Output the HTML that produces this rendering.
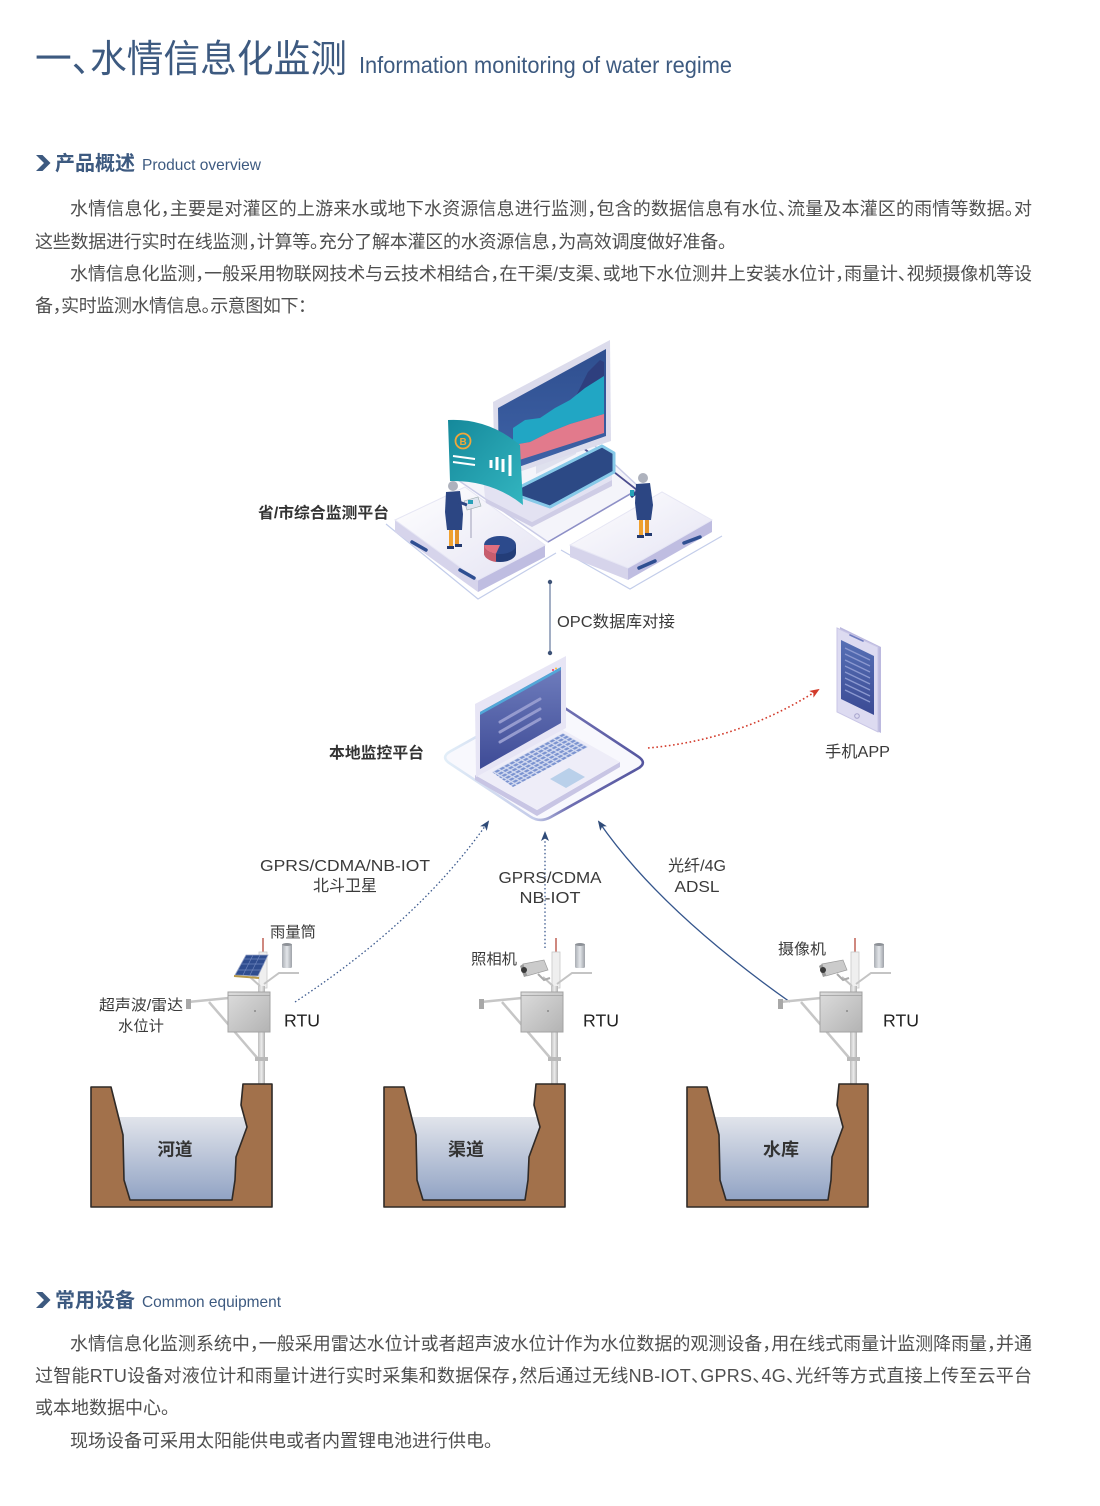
<!DOCTYPE html>
<html><head><meta charset="utf-8">
<style>
html,body{margin:0;padding:0;background:#fff;}
body{width:1100px;height:1506px;overflow:hidden;}
svg{display:block;}
svg text{font-family:"Liberation Sans","Noto Sans CJK SC",sans-serif;}
.p{font-size:18px;fill:#4f4f4f;font-feature-settings:"halt" 1;}
.lb{font-size:16px;fill:#3a3a3a;}
.sm{font-size:15px;fill:#3a3a3a;}
.bd{font-weight:bold;fill:#333;}
.tt{font-feature-settings:"halt" 1;}
</style></head>
<body>
<svg width="1100" height="1506" viewBox="0 0 1100 1506" xmlns="http://www.w3.org/2000/svg">
<defs>
 <linearGradient id="water" x1="0" y1="0" x2="0" y2="1">
  <stop offset="0" stop-color="#e1e4eb"/><stop offset="1" stop-color="#91a3c4"/>
 </linearGradient>
 <linearGradient id="pole" x1="0" y1="0" x2="1" y2="0">
  <stop offset="0" stop-color="#bdbdbd"/><stop offset="0.5" stop-color="#ececec"/><stop offset="1" stop-color="#b0b0b0"/>
 </linearGradient>
 <linearGradient id="box" x1="0" y1="0" x2="1" y2="1">
  <stop offset="0" stop-color="#dcdcdc"/><stop offset="1" stop-color="#b3b3b3"/>
 </linearGradient>
 <linearGradient id="gauge" x1="0" y1="0" x2="1" y2="0">
  <stop offset="0" stop-color="#a9adb3"/><stop offset="0.5" stop-color="#e3e6ea"/><stop offset="1" stop-color="#9ea2a8"/>
 </linearGradient>
 <linearGradient id="scr" x1="0" y1="0" x2="0" y2="1">
  <stop offset="0" stop-color="#6f7dbd"/><stop offset="1" stop-color="#3e4b96"/>
 </linearGradient>
 <linearGradient id="mon" x1="0" y1="0" x2="0" y2="1">
  <stop offset="0" stop-color="#2f4f8f"/><stop offset="1" stop-color="#3f63a8"/>
 </linearGradient>
 <linearGradient id="teal" x1="0" y1="0" x2="1" y2="1">
  <stop offset="0" stop-color="#15899b"/><stop offset="1" stop-color="#33b5c0"/>
 </linearGradient>
 <linearGradient id="plat" x1="0" y1="0" x2="1" y2="0">
  <stop offset="0" stop-color="#e2eef8"/><stop offset="0.45" stop-color="#c4cbe9"/><stop offset="0.62" stop-color="#6f6fb2"/><stop offset="1" stop-color="#55569f"/>
 </linearGradient>
 <linearGradient id="slab" x1="0" y1="0" x2="1" y2="1">
  <stop offset="0" stop-color="#ffffff"/><stop offset="1" stop-color="#e4e3f3"/>
 </linearGradient>
 <linearGradient id="phs" x1="0" y1="0" x2="0" y2="1">
  <stop offset="0" stop-color="#5670b5"/><stop offset="1" stop-color="#3b4a94"/>
 </linearGradient>
 <pattern id="kb" width="5" height="4" patternUnits="userSpaceOnUse" patternTransform="matrix(1,-0.55,0.9,0.5,0,0)">
  <rect width="5" height="4" fill="#d3daf0"/><rect x="0.6" y="0.6" width="3.6" height="2.6" fill="#7b93d0"/>
 </pattern>
 <marker id="ab" viewBox="0 0 10 8" refX="8" refY="4" markerWidth="10" markerHeight="8" markerUnits="userSpaceOnUse" orient="auto">
  <path d="M0,0 L10,4 L0,8 L2.5,4 Z" fill="#2f4b78"/>
 </marker>
 <marker id="ar" viewBox="0 0 10 8" refX="8" refY="4" markerWidth="10" markerHeight="8" markerUnits="userSpaceOnUse" orient="auto">
  <path d="M0,0 L10,4 L0,8 L2.5,4 Z" fill="#d23a2a"/>
 </marker>

 <g id="stb">
  <line x1="556" y1="938" x2="556" y2="953" stroke="#b5473a" stroke-width="1.3"/>
  <rect x="552" y="952" width="8" height="36" fill="#efefef" stroke="#c8c8c8" stroke-width="0.8"/>
  <rect x="551" y="986" width="7" height="98" fill="url(#pole)"/>
  <path d="M557,984 L572,973 L592,973" fill="none" stroke="#c4c4c4" stroke-width="2"/>
  <path d="M553,986 L543,977" fill="none" stroke="#c4c4c4" stroke-width="2"/>
  <rect x="575" y="944" width="10" height="24" rx="1.5" fill="url(#gauge)"/>
  <ellipse cx="580" cy="944.5" rx="5" ry="1.5" fill="#8d9197"/>
  <line x1="481" y1="1002" x2="522" y2="998" stroke="#c6c6c6" stroke-width="2.5"/>
  <rect x="479" y="999" width="5" height="10" fill="#a8a8a8"/>
  <line x1="502" y1="1002" x2="552" y2="1060" stroke="#c6c6c6" stroke-width="2.5"/>
  <rect x="521" y="992" width="42" height="40" fill="url(#box)" stroke="#a3a3a3" stroke-width="1"/>
  <line x1="521" y1="995.5" x2="563" y2="995.5" stroke="#9c9c9c" stroke-width="0.8"/>
  <circle cx="548" cy="1011" r="0.9" fill="#777"/>
  <rect x="548" y="1057" width="13" height="4" fill="#b9b9b9"/>
 </g>
 <g id="cam">
  <polygon points="523,964 544,960 548,970 527,976" fill="#cbcbcb" stroke="#9d9d9d" stroke-width="0.7"/>
  <polygon points="523,964 527,976 524,977 520,966" fill="#9a9a9a"/>
  <circle cx="524" cy="970" r="3" fill="#3a3a3a"/>
  <path d="M538,974 L544,980 L550,978" fill="none" stroke="#aaa" stroke-width="2"/>
 </g>
 <g id="chan">
  <path d="M118.5,1117 L244.3,1117 L247,1127 L236,1157 L235,1180 L232,1200 L130,1200 L124,1180 L123,1135 Z" fill="url(#water)"/>
  <path d="M91,1087 L111,1087 L123,1135 L124,1180 L130,1200 L232,1200 L235,1180 L236,1157 L247,1127 L241,1105 L243,1084 L272,1084 L272,1207 L91,1207 Z" fill="#a2714b" stroke="#2f2a27" stroke-width="1.6" stroke-linejoin="round"/>
 </g>
</defs>

<!-- ===== Title ===== -->
<text class="tt" x="35" y="72" font-size="38" fill="#3d5a80" textLength="312" lengthAdjust="spacingAndGlyphs">一、水情信息化监测</text>
<text x="359" y="73" font-size="23.5" fill="#3d5a80" textLength="373" lengthAdjust="spacingAndGlyphs">Information monitoring of water regime</text>

<!-- ===== Heading 1 ===== -->
<polygon points="36,155 42.5,155 50.5,163 42.5,171 36,171 44,163" fill="#3d5a80"/>
<text x="55" y="170" font-size="20" font-weight="bold" fill="#3d5a80" textLength="80" lengthAdjust="spacingAndGlyphs">产品概述</text>
<text x="142" y="170" font-size="16" fill="#3d5a80" textLength="119" lengthAdjust="spacingAndGlyphs">Product overview</text>

<text class="p" x="70" y="215" textLength="962" lengthAdjust="spacing">水情信息化，主要是对灌区的上游来水或地下水资源信息进行监测，包含的数据信息有水位、流量及本灌区的雨情等数据。对</text>
<text class="p" x="35" y="248" textLength="692" lengthAdjust="spacing">这些数据进行实时在线监测，计算等。充分了解本灌区的水资源信息，为高效调度做好准备。</text>
<text class="p" x="70" y="280" textLength="962" lengthAdjust="spacing">水情信息化监测，一般采用物联网技术与云技术相结合，在干渠/支渠、或地下水位测井上安装水位计，雨量计、视频摄像机等设</text>
<text class="p" x="35" y="312" textLength="272" lengthAdjust="spacing">备，实时监测水情信息。示意图如下：</text>

<!-- ===== Top platform illustration ===== -->
<polygon points="455,478 565,418 640,488 548,542" fill="#f4f4fa" stroke="#c9cbe6" stroke-width="1.5"/>
<line x1="582" y1="447" x2="637" y2="490" stroke="#4a4c8e" stroke-width="1.8"/>
<line x1="637" y1="490" x2="548" y2="542" stroke="#8d8fc6" stroke-width="1.5"/>
<path d="M386,524 L478,599 L556,553" fill="none" stroke="#c3cdea" stroke-width="1.2"/>
<polygon points="395,520 478,580 478,592 395,532" fill="#d6d4eb"/>
<polygon points="478,580 545,545 545,557 478,592" fill="#bfbde1"/>
<polygon points="395,520 465,487 545,545 478,580" fill="url(#slab)" stroke="#e6e6f4" stroke-width="1"/>
<line x1="412" y1="542" x2="426" y2="550" stroke="#2f4f92" stroke-width="3.5" stroke-linecap="round"/>
<line x1="460" y1="570" x2="474" y2="578" stroke="#2f4f92" stroke-width="3.5" stroke-linecap="round"/>
<path d="M561,550 L630,589 L722,536" fill="none" stroke="#c3cdea" stroke-width="1.2"/>
<polygon points="570,545 628,568 628,580 570,557" fill="#d6d4eb"/>
<polygon points="628,568 712,520 712,532 628,580" fill="#bfbde1"/>
<polygon points="570,545 662,492 712,520 628,568" fill="url(#slab)" stroke="#e6e6f4" stroke-width="1"/>
<line x1="639" y1="568" x2="655" y2="561" stroke="#2f4f92" stroke-width="3.5" stroke-linecap="round"/>
<line x1="684" y1="543" x2="700" y2="537" stroke="#2f4f92" stroke-width="3.5" stroke-linecap="round"/>
<polygon points="483,476 523,492 612,452 612,480 532,522 485,498" fill="#e3e2f2"/>
<polygon points="485,498 532,522 612,480 612,486 532,527 486,503" fill="#cfcde6"/>
<polygon points="518,488 602,446 614,453 614,472 550,507 519,496" fill="#2c4985" stroke="#86c9e8" stroke-width="3" stroke-linejoin="round"/>
<polygon points="536,474 576,454 576,444 536,464" fill="#dfe1ee"/>
<polygon points="493,402 610,340 611,441 495,480" fill="#dcdcec"/>
<polygon points="498,408 606,349 606,436 499,474" fill="url(#mon)"/>
<polygon points="575,398 588,372 600,360 604,362 604,392" fill="#2e3f7e"/>
<polygon points="513,445 513,428 525,420 540,418 555,408 570,400 585,388 604,376 604,414 570,424 550,432 530,442" fill="#21a6c4"/>
<polygon points="513,462 513,445 530,442 550,432 570,424 604,414 604,433" fill="#e27a8c"/>
<path d="M448,420 Q488,418 520,445 L523,505 Q492,480 450,481 Z" fill="url(#teal)"/>
<circle cx="463" cy="441" r="7.5" fill="none" stroke="#f0a73a" stroke-width="1.8"/>
<text x="459.5" y="445" font-size="10" font-weight="bold" fill="#f0a73a">B</text>
<line x1="453" y1="456" x2="475" y2="459" stroke="#fff" stroke-width="2"/>
<line x1="453" y1="462" x2="475" y2="465" stroke="#fff" stroke-width="2"/>
<line x1="491" y1="460" x2="491" y2="468" stroke="#fff" stroke-width="3"/>
<line x1="497" y1="457" x2="497" y2="470" stroke="#fff" stroke-width="3"/>
<line x1="503" y1="459" x2="503" y2="472" stroke="#fff" stroke-width="3"/>
<line x1="510" y1="455" x2="510" y2="476" stroke="#fff" stroke-width="3"/>
<line x1="471" y1="508" x2="471" y2="538" stroke="#c9c9d9" stroke-width="2"/>
<polygon points="464,501 478,497 481,506 467,510" fill="#dfe4ef" stroke="#9aa" stroke-width="0.6"/>
<rect x="468" y="500" width="5" height="4" fill="#27a0b8"/>
<circle cx="453" cy="486" r="5" fill="#aeb2bd"/>
<polygon points="446,492 460,491 463,514 462,530 447,530 445,512" fill="#2c4683"/>
<line x1="459" y1="502" x2="467" y2="505" stroke="#2c4683" stroke-width="3"/>
<rect x="449" y="530" width="4" height="17" fill="#f0a12f"/>
<rect x="455" y="530" width="4" height="15" fill="#e4932a"/>
<rect x="447" y="546" width="7" height="3" fill="#243a6e"/>
<rect x="455" y="544" width="7" height="3" fill="#243a6e"/>
<circle cx="643" cy="478" r="5" fill="#aeb2bd"/>
<polygon points="636,484 650,483 653,505 651,520 637,520 635,503" fill="#2c4683"/>
<line x1="637" y1="492" x2="631" y2="497" stroke="#2c4683" stroke-width="3"/>
<rect x="630" y="490" width="4" height="6" fill="#26a4b8"/>
<rect x="639" y="520" width="4" height="16" fill="#f0a12f"/>
<rect x="645" y="520" width="4" height="14" fill="#e4932a"/>
<rect x="637" y="535" width="7" height="3" fill="#243a6e"/>
<rect x="645" y="533" width="7" height="3" fill="#243a6e"/>
<path d="M484,545 L484,553 A16,9 0 0 0 516,553 L516,545 Z" fill="#233d78"/>
<ellipse cx="500" cy="545" rx="16" ry="9" fill="#2c4a8c"/>
<path d="M500,545 L484,545 A16,9 0 0 0 496,553.8 Z" fill="#e06f7f"/>
<path d="M484,545 L484,553 A16,9 0 0 0 496,562 L496,553.8 A16,9 0 0 1 484,545 Z" fill="#c85d6d"/>

<!-- ===== OPC connector ===== -->
<line x1="550" y1="582" x2="550" y2="653" stroke="#8a9ab5" stroke-width="1.6"/>
<circle cx="550" cy="582" r="2.2" fill="#3d5277"/>
<circle cx="550" cy="653" r="2.2" fill="#3d5277"/>
<text class="lb" x="557" y="627" textLength="118" lengthAdjust="spacingAndGlyphs">OPC数据库对接</text>

<!-- ===== Laptop ===== -->
<path d="M450,763.6 L530,816.4 Q540,823 550.5,817.2 L637.5,768.8 Q648,763 638,756.4 L558,703.6 Q548,697 537.5,702.8 L450.5,751.2 Q440,757 450,763.6 Z" fill="#f8f8fd" stroke="url(#plat)" stroke-width="2.6"/>
<polygon points="475,775 537,810 620,762 620,767 537,816 475,780" fill="#c8c5e4"/>
<polygon points="475,775 558,727 620,762 537,810" fill="#eeedf8"/>
<polygon points="492,772 563,733 588,747 513,787" fill="url(#kb)"/>
<polygon points="550,779 569,768 585,777 566,788" fill="#b9d0ea"/>
<polygon points="475,704 566,656 566,728 476,777" fill="#e7e5f5"/>
<polygon points="480,712 561,667 561,723 480,769" fill="url(#scr)"/>
<polygon points="480,712 561,667 561,670 480,715" fill="#52a7d8"/>
<line x1="500" y1="722" x2="540" y2="699" stroke="#959bcf" stroke-width="3" stroke-linecap="round"/>
<line x1="500" y1="732" x2="540" y2="709" stroke="#959bcf" stroke-width="3" stroke-linecap="round"/>
<line x1="500" y1="742" x2="540" y2="719" stroke="#959bcf" stroke-width="3" stroke-linecap="round"/>
<circle cx="553" cy="670" r="1" fill="#e35"/><circle cx="556" cy="668.5" r="1" fill="#fb3"/>

<text class="bd" x="258" y="518" font-size="15.5" textLength="131" lengthAdjust="spacingAndGlyphs">省/市综合监测平台</text>
<text class="bd" x="329" y="758" font-size="15.5" textLength="95" lengthAdjust="spacingAndGlyphs">本地监控平台</text>

<!-- ===== Phone ===== -->
<polygon points="840,627 881,647 881,733 840,713" fill="#bcb9df"/>
<polygon points="837,628 878,647 878,732 837,712" fill="#dddbf1" stroke="#c9c6e6" stroke-width="1"/>
<polygon points="841,640 874,656 874,715 841,699" fill="url(#phs)"/>
<line x1="850" y1="635" x2="863" y2="641" stroke="#6e7cc0" stroke-width="1.6" stroke-linecap="round"/>
<circle cx="857" cy="716" r="2.3" fill="none" stroke="#a6a3cc" stroke-width="1"/>
<g stroke="#8b98d0" stroke-width="1.3">
 <line x1="845" y1="648" x2="870" y2="660"/><line x1="845" y1="654" x2="870" y2="666"/>
 <line x1="845" y1="660" x2="870" y2="672"/><line x1="845" y1="666" x2="870" y2="678"/>
 <line x1="845" y1="672" x2="870" y2="684"/><line x1="845" y1="678" x2="870" y2="690"/>
 <line x1="845" y1="684" x2="870" y2="696"/><line x1="845" y1="690" x2="870" y2="702"/>
</g>
<text class="lb" x="825" y="757" textLength="65" lengthAdjust="spacingAndGlyphs">手机APP</text>

<path d="M648,748 Q740,740 818,690" fill="none" stroke="#d23a2a" stroke-width="1.6" stroke-dasharray="1.6 2.6" marker-end="url(#ar)"/>

<!-- ===== uplinks ===== -->
<path d="M295,1002 Q420,920 488,822" fill="none" stroke="#3c5a8e" stroke-width="1.3" stroke-dasharray="1.5 2.4" marker-end="url(#ab)"/>
<line x1="545" y1="948" x2="545" y2="833" stroke="#3c5a8e" stroke-width="1.3" stroke-dasharray="1.5 2.4" marker-end="url(#ab)"/>
<path d="M790,1002 Q660,910 599,822" fill="none" stroke="#34558c" stroke-width="1.3" marker-end="url(#ab)"/>

<text class="lb" x="345" y="871" text-anchor="middle" textLength="170" lengthAdjust="spacingAndGlyphs">GPRS/CDMA/NB-IOT</text>
<text class="lb" x="345" y="891" text-anchor="middle" textLength="64" lengthAdjust="spacingAndGlyphs">北斗卫星</text>
<text class="lb" x="550" y="883" text-anchor="middle" textLength="103" lengthAdjust="spacingAndGlyphs">GPRS/CDMA</text>
<text class="lb" x="550" y="903" text-anchor="middle" textLength="61" lengthAdjust="spacingAndGlyphs">NB-IOT</text>
<text class="lb" x="697" y="871" text-anchor="middle" textLength="58" lengthAdjust="spacingAndGlyphs">光纤/4G</text>
<text class="lb" x="697" y="892" text-anchor="middle" textLength="45" lengthAdjust="spacingAndGlyphs">ADSL</text>

<!-- ===== Stations ===== -->
<use href="#stb" transform="translate(-293,0)"/>
<g>
 <line x1="257" y1="978" x2="247" y2="972" stroke="#c4c4c4" stroke-width="2"/>
 <polygon points="235,975 246,955 268,955 258,976" fill="#2f4d8f" stroke="#9aa6c8" stroke-width="0.8"/>
 <g stroke="#6f86bd" stroke-width="0.7">
  <line x1="238" y1="970" x2="261" y2="970"/><line x1="241" y1="964" x2="264" y2="964"/><line x1="244" y1="959" x2="266" y2="959"/>
  <line x1="243" y1="975" x2="253" y2="955"/><line x1="250" y1="975" x2="260" y2="955"/>
 </g>
 <line x1="234" y1="976" x2="259" y2="978" stroke="#b89a4a" stroke-width="2"/>
</g>
<use href="#stb"/>
<use href="#cam"/>
<use href="#stb" transform="translate(299,0)"/>
<use href="#cam" transform="translate(299,0)"/>

<text class="sm" x="270" y="937" textLength="46" lengthAdjust="spacingAndGlyphs">雨量筒</text>
<text class="sm" x="99" y="1010" textLength="84" lengthAdjust="spacingAndGlyphs">超声波/雷达</text>
<text class="sm" x="141" y="1031" text-anchor="middle" textLength="46" lengthAdjust="spacingAndGlyphs">水位计</text>
<text class="sm" x="471" y="964" textLength="46" lengthAdjust="spacingAndGlyphs">照相机</text>
<text class="sm" x="778" y="954" textLength="48" lengthAdjust="spacingAndGlyphs">摄像机</text>
<text x="284" y="1026.5" font-size="17.5" fill="#222" textLength="36" lengthAdjust="spacingAndGlyphs">RTU</text>
<text x="583" y="1026.5" font-size="17.5" fill="#222" textLength="36" lengthAdjust="spacingAndGlyphs">RTU</text>
<text x="883" y="1026.5" font-size="17.5" fill="#222" textLength="36" lengthAdjust="spacingAndGlyphs">RTU</text>

<!-- ===== Channels ===== -->
<use href="#chan"/>
<use href="#chan" transform="translate(293,0)"/>
<use href="#chan" transform="translate(596,0)"/>
<text class="bd" x="175" y="1155.5" font-size="17.5" text-anchor="middle" textLength="35" lengthAdjust="spacingAndGlyphs">河道</text>
<text class="bd" x="466" y="1155.5" font-size="17.5" text-anchor="middle" textLength="36" lengthAdjust="spacingAndGlyphs">渠道</text>
<text class="bd" x="781" y="1155.5" font-size="17.5" text-anchor="middle" textLength="36" lengthAdjust="spacingAndGlyphs">水库</text>

<!-- ===== Heading 2 ===== -->
<polygon points="36,1292 42.5,1292 50.5,1300 42.5,1308 36,1308 44,1300" fill="#3d5a80"/>
<text x="55" y="1307" font-size="20" font-weight="bold" fill="#3d5a80" textLength="80" lengthAdjust="spacingAndGlyphs">常用设备</text>
<text x="142" y="1307" font-size="16" fill="#3d5a80" textLength="139" lengthAdjust="spacingAndGlyphs">Common equipment</text>

<text class="p" x="70" y="1350" textLength="962" lengthAdjust="spacing">水情信息化监测系统中，一般采用雷达水位计或者超声波水位计作为水位数据的观测设备，用在线式雨量计监测降雨量，并通</text>
<text class="p" x="35" y="1382" textLength="997" lengthAdjust="spacing">过智能RTU设备对液位计和雨量计进行实时采集和数据保存，然后通过无线NB-IOT、GPRS、4G、光纤等方式直接上传至云平台</text>
<text class="p" x="35" y="1414" textLength="135" lengthAdjust="spacing">或本地数据中心。</text>
<text class="p" x="70" y="1447" textLength="423" lengthAdjust="spacing">现场设备可采用太阳能供电或者内置锂电池进行供电。</text>
</svg>
</body></html>
